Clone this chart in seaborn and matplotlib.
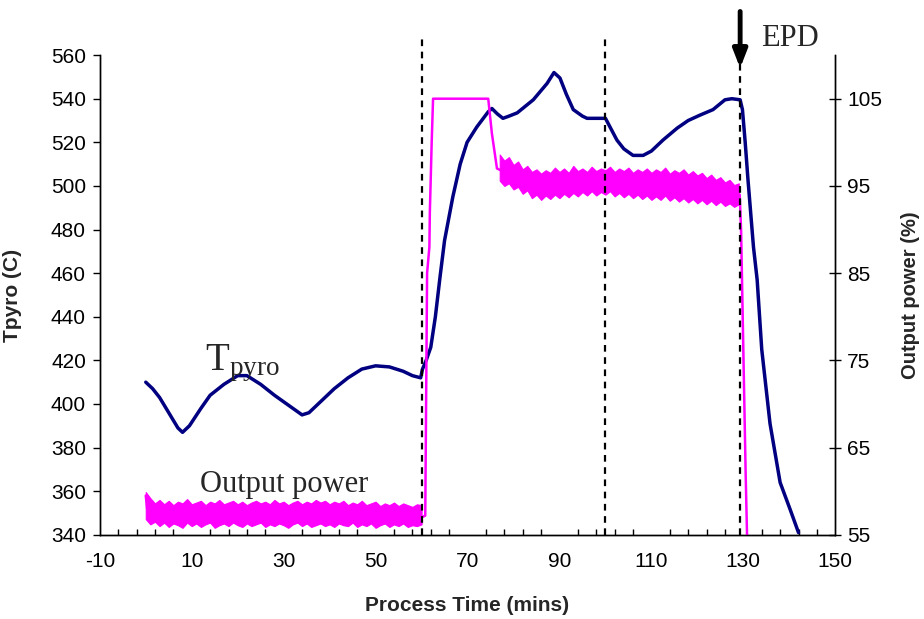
import numpy as np
import pandas as pd
import matplotlib
matplotlib.use("Agg")
import matplotlib.pyplot as plt
from matplotlib.ticker import MultipleLocator
import seaborn as sns

# ---------------- data ----------------
tpyro_time = [0, 1.5, 3, 5, 7, 8, 9.5, 12, 14, 17, 20, 22, 25, 28, 30, 32, 34, 35.5,
              38, 41, 44, 47, 50, 53, 56, 58, 59.8, 60.2, 61, 62, 63, 64, 65, 66.8,
              68.4, 69.9, 72, 74.5, 75.3, 76.5, 77.7, 79, 80.8, 84.3, 87.3, 88.8, 90.1,
              91.5, 93, 95, 96, 98, 100, 101, 102.5, 104, 106, 108.2, 110, 112.5, 115.6,
              118, 120.6, 123.4, 126, 127.5, 129.3, 129.8, 130.4, 131, 132.2, 133, 134,
              135.8, 138, 140.2, 142]
tpyro_vals = [410, 407, 403, 396, 389, 387, 390, 398, 404, 409, 413, 413, 409, 404, 401, 398, 395, 396,
              401, 407, 412, 416, 417.5, 417, 415, 413, 412, 416, 420, 426, 440, 458, 475, 495,
              510, 520, 527, 534, 535.5, 533, 531, 532, 533.5, 539.5, 547, 552, 549.5,
              542, 535, 532, 531, 531, 531, 527, 521, 517, 514, 514, 516, 521, 526.5,
              530, 532.5, 535, 539.5, 540, 539.5, 535, 520, 503, 472, 457, 425,
              391, 364, 351.5, 341]

power_time = [0, 0.3, 5, 10, 15, 20, 25, 30, 35, 40, 45, 50, 55, 60, 60.8, 61.2, 61.7, 61.8,
              62.2, 62.5, 74.5, 75.3, 76.4, 78, 81, 84, 87, 90, 95, 100, 105, 110, 115,
              120, 125, 129.2, 129.5, 130.5, 130.8]
power_vals = [59.5, 58.0, 57.5, 57.3, 57.2, 57.3, 57.3, 57.3, 57.4, 57.4, 57.3, 57.2, 57.1, 57.0, 57.2,
              85, 88, 92, 100, 105, 105, 101, 97, 96.6, 95.6, 95.0, 95.0, 95.3, 95.5, 95.6,
              95.6, 95.4, 95.3, 95.0, 94.5, 94.0, 90, 62, 55]

# noise envelope of the power trace (one reading per minute)
band1_time = list(range(0, 61))
band1_high = [59.9, 59.2, 58.6, 59.0, 58.5, 58.9, 58.4, 58.8, 58.6, 59.1,
              58.5, 58.7, 58.9, 58.4, 58.8, 58.6, 59.0, 58.5, 58.7, 58.9,
              58.5, 58.8, 58.4, 58.7, 58.9, 58.6, 58.8, 58.5, 59.0, 58.6,
              58.8, 58.4, 58.7, 58.9, 58.5, 58.8, 58.6, 59.0, 58.7, 58.9,
              58.5, 58.8, 58.6, 58.9, 58.4, 58.7, 58.5, 58.9, 58.4, 58.6,
              58.8, 58.3, 58.6, 58.4, 58.7, 58.3, 58.6, 58.4, 58.2, 58.5,
              58.4]
band1_low = [56.8, 56.2, 56.5, 56.0, 56.4, 55.9, 56.3, 56.1, 55.8, 56.4,
             56.0, 56.3, 55.9, 56.2, 56.4, 55.8, 56.1, 56.3, 56.0, 56.4,
             56.1, 55.9, 56.3, 56.0, 56.2, 56.4, 55.9, 56.2, 56.0, 56.3,
             56.1, 55.8, 56.2, 56.4, 56.0, 56.3, 55.9, 56.1, 56.3, 56.0,
             56.2, 55.9, 56.3, 56.1, 56.0, 56.4, 55.9, 56.2, 56.0, 56.3,
             55.8, 56.1, 56.3, 55.9, 56.2, 56.0, 56.3, 55.9, 56.1, 56.0,
             56.2]

band2_time = list(range(77, 130))
band2_high = [98.6, 97.9, 98.3, 97.4, 97.8, 96.9, 97.3, 96.6, 96.9, 96.4,
              96.8, 96.5, 97.1, 96.6, 97.0, 96.5, 97.3, 96.7, 97.0, 96.6,
              97.2, 96.7, 97.0, 96.8, 97.2, 96.6, 97.0, 96.7, 97.1, 96.5,
              96.9, 96.6, 97.0, 96.5, 96.9, 96.6, 97.1, 96.4, 96.8, 96.5,
              96.9, 96.3, 96.7, 96.2, 96.5, 95.9, 96.3, 95.7, 96.0, 95.4,
              95.7, 95.1, 95.3]
band2_low = [95.6, 95.0, 95.3, 94.6, 94.9, 94.1, 94.5, 93.6, 94.0, 93.4,
             93.9, 93.5, 94.0, 93.6, 94.1, 93.7, 94.2, 93.8, 94.3, 93.9,
             94.4, 93.9, 94.3, 94.0, 94.4, 93.8, 94.2, 93.7, 94.1, 93.6,
             94.0, 93.5, 93.9, 93.4, 93.8, 93.4, 93.9, 93.3, 93.7, 93.2,
             93.6, 93.1, 93.5, 93.0, 93.4, 92.9, 93.3, 92.8, 93.2, 92.7,
             93.0, 92.6, 92.9]

event_times = [60, 100, 129.3]
epd_time = 129.3

x_ticks = list(range(-10, 151, 20))
left_ticks = list(range(340, 561, 20))
right_ticks = list(range(55, 106, 10))

# ---------------- styling ----------------
sns.set_theme(style="white")
plt.rcParams["font.family"] = ["Liberation Sans", "DejaVu Sans"]
plt.rcParams["axes.unicode_minus"] = False
plt.rcParams["mathtext.fontset"] = "custom"
plt.rcParams["mathtext.rm"] = "Liberation Serif"
plt.rcParams["mathtext.it"] = "Liberation Serif:italic"

NAVY = "#000080"
MAGENTA = "#FF00FF"

fig = plt.figure(figsize=(9.24, 6.19), dpi=100)
ax = fig.add_axes([0.108, 0.136, 0.796, 0.775])
ax2 = ax.twinx()

df_t = pd.DataFrame({"time": tpyro_time, "T": tpyro_vals})
df_p = pd.DataFrame({"time": power_time, "P": power_vals})

sns.lineplot(data=df_t, x="time", y="T", ax=ax, color=NAVY, linewidth=2.5,
             estimator=None, sort=False)
ax2.fill_between(band1_time, band1_low, band1_high, color=MAGENTA, linewidth=0.8,
                 edgecolor=MAGENTA)
ax2.fill_between(band2_time, band2_low, band2_high, color=MAGENTA, linewidth=0.8,
                 edgecolor=MAGENTA)
sns.lineplot(data=df_p, x="time", y="P", ax=ax2, color=MAGENTA, linewidth=1.8,
             estimator=None, sort=False)

ax.set_xlim(-10, 150)
ax.set_ylim(340, 560)
ax2.set_ylim(55, 110)

ax.set_xticks(x_ticks)
ax.xaxis.set_minor_locator(MultipleLocator(4, offset=2))
ax.set_yticks(left_ticks)
ax2.set_yticks(right_ticks)

for a in (ax, ax2):
    a.grid(False)
    a.spines["top"].set_visible(False)
    for s in ("left", "right", "bottom"):
        a.spines[s].set_color("black")
        a.spines[s].set_linewidth(1.0)

ax.tick_params(axis="x", which="major", direction="inout", length=9, width=1,
               labelsize=15, pad=8, colors="black")
ax.tick_params(axis="x", which="minor", direction="in", length=4, width=1,
               colors="black", bottom=True)
ax.tick_params(axis="y", which="major", direction="out", length=5, width=1,
               labelsize=15, pad=5, colors="black", left=True)
ax2.tick_params(axis="y", which="major", direction="inout", length=9, width=1,
                labelsize=15, pad=4, colors="black", right=True)

ax.set_xlabel("Process Time (mins)", fontsize=15, fontweight="bold")
ax.set_ylabel("Tpyro (C)", fontsize=15, fontweight="bold")
ax2.set_ylabel("Output power (%)", fontsize=14.5, fontweight="bold", rotation=90)
ax.xaxis.set_label_coords(0.5, -0.128)
ax.yaxis.set_label_coords(-0.106, 0.5)
ax2.yaxis.set_label_coords(1.09, 0.5)

# dashed event lines (extend slightly above plot)
for t in event_times:
    ax2.axvline(t, ymin=0, ymax=1.035, color="black", linestyle=(0, (3, 2.5)),
                linewidth=1.6, clip_on=False, zorder=5)

# EPD arrow
ax.annotate("", xy=(epd_time, 554), xytext=(epd_time, 580),
            arrowprops=dict(arrowstyle="-|>,head_width=0.35,head_length=0.9",
                            color="black", linewidth=3.5, shrinkA=0, shrinkB=0),
            annotation_clip=False)
ax.text(140.2, 567.5, "EPD", fontsize=22, family="Liberation Serif",
        ha="center", va="center")

# in-plot labels
ax.text(12.9, 415.5, r"$\mathrm{T}_{\mathrm{pyro}}$", fontsize=28, ha="left", va="baseline")
ax.text(11.8, 359.7, "Output power", fontsize=22, family="Liberation Serif",
        ha="left", va="baseline")

fig.savefig("out.png", dpi=100)
